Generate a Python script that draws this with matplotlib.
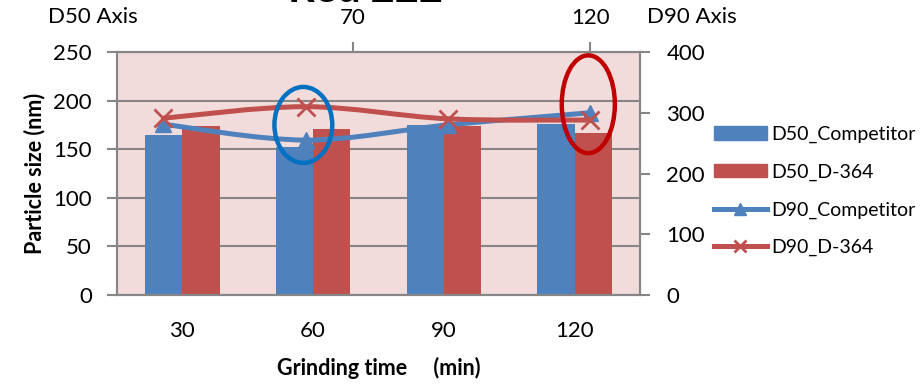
import numpy as np
import matplotlib.pyplot as plt
from matplotlib.path import Path
from matplotlib.patches import PathPatch, Ellipse
from matplotlib.lines import Line2D
from matplotlib.patches import Patch

plt.rcParams['font.family'] = ['Lato', 'DejaVu Sans']

# Grinding times (min)
times = [30, 60, 90, 120]
time_labels = ['30', '60', '90', '120']

# D50 particle size (nm), left axis
d50_competitor = [165, 152, 175, 176]
d50_d364 = [174, 171, 174, 167]

# D90 particle size (nm), right axis
d90_competitor = [281, 255, 280, 300]
d90_d364 = [291, 310, 290, 288]

BLUE = '#4F81BD'
RED = '#C0504D'
GRID = '#868686'
BG = '#F2DCDB'
FS = 16


def smooth_path(xs, ys):
    # cubic bezier through the points (Catmull-Rom style tangents)
    pts = np.column_stack([xs, ys]).astype(float)
    n = len(pts)
    verts = [pts[0]]
    codes = [Path.MOVETO]
    for i in range(n - 1):
        p_prev = pts[i - 1] if i > 0 else pts[i]
        p_next2 = pts[i + 2] if i + 2 < n else pts[i + 1]
        c1 = pts[i] + (pts[i + 1] - p_prev) / 6.0
        c2 = pts[i + 1] - (p_next2 - pts[i]) / 6.0
        verts += [c1, c2, pts[i + 1]]
        codes += [Path.CURVE4] * 3
    return Path(verts, codes)


fig = plt.figure(figsize=(9.22, 3.84), dpi=100)
ax = fig.add_axes([117 / 922, 89 / 384, 523 / 922, 243 / 384])
ax.set_facecolor(BG)

# D50 bars on category axis
idx = np.arange(len(times))
w = 0.285
ax.bar(idx - w / 2, d50_competitor, w, color=BLUE, zorder=2)
ax.bar(idx + w / 2, d50_d364, w, color=RED, zorder=2)
ax.set_xlim(-0.5, len(times) - 0.5)
ax.set_ylim(0, 250)
ax.set_yticks(range(0, 251, 50))
ax.yaxis.grid(True, color=GRID, lw=1.5, zorder=1)
ax.set_axisbelow(True)
ax.set_xticks(idx)
ax.set_xticklabels(time_labels)
ax.tick_params(axis='x', length=0, pad=19, labelsize=FS)
ax.tick_params(axis='y', direction='out', length=7, width=1.5, color=GRID,
               pad=11, labelsize=FS)
for s in ax.spines.values():
    s.set_color(GRID)
    s.set_linewidth(1.5)
ax.set_ylabel('Particle size (nm)', fontsize=15.5, fontweight='bold',
              labelpad=6)
ax.set_xlabel('Grinding time     (min)', fontsize=15.5, fontweight='bold',
              labelpad=11)

# D90 lines on secondary axes (top x in minutes, right y)
ax2 = fig.add_axes(ax.get_position(), facecolor='none')
ax2.set_xlim(20.2, 130.5)
ax2.set_ylim(0, 400)
ax2.xaxis.tick_top()
ax2.yaxis.tick_right()
ax2.set_xticks([70, 120])
ax2.set_yticks(range(0, 401, 100))
ax2.tick_params(axis='x', direction='out', length=7, width=1.5, color=GRID,
                pad=10, labelsize=FS)
ax2.tick_params(axis='y', direction='out', length=7, width=1.5, color=GRID,
                pad=12, labelsize=FS)
for s in ax2.spines.values():
    s.set_color(GRID)
    s.set_linewidth(1.5)

ax2.add_patch(PathPatch(smooth_path(times, d90_competitor), fc='none',
                        ec=BLUE, lw=3.6, capstyle='round', zorder=3))
ax2.plot(times, d90_competitor, ls='none', marker='^', ms=12, color=BLUE,
         zorder=4)
ax2.add_patch(PathPatch(smooth_path(times, d90_d364), fc='none',
                        ec=RED, lw=3.6, capstyle='round', zorder=5))
ax2.plot(times, d90_d364, ls='none', marker='x', ms=13, mew=2, color=RED,
         zorder=6)

# highlight rings
ax2.add_patch(Ellipse((59.5, 280), 12.2, 125, fill=False, ec='#0070C0',
                      lw=3.2, zorder=7))
ax2.add_patch(Ellipse((119.6, 314), 11.2, 161, fill=False, ec='#C00000',
                      lw=3.2, zorder=7))

fig.text(48 / 922, 1 - 17 / 384, 'D50 Axis', fontsize=FS, va='center')
fig.text(647 / 922, 1 - 17 / 384, 'D90 Axis', fontsize=FS, va='center')
fig.text(365 / 922, 1 - 2 / 384, 'Red 222', fontsize=30, fontweight='bold',
         ha='center', va='baseline')

handles = [
    Patch(color=BLUE),
    Patch(color=RED),
    Line2D([], [], color=BLUE, lw=3.6, marker='^', ms=8),
    Line2D([], [], color=RED, lw=3.6, marker='x', ms=9, mew=2),
]
labels = ['D50_Competitor', 'D50_D-364', 'D90_Competitor', 'D90_D-364']
fig.legend(handles, labels, loc='center left',
           bbox_to_anchor=(714 / 922, 1 - 191 / 384), frameon=False,
           fontsize=14, handlelength=2.7, handletextpad=0.26,
           labelspacing=1.06, borderaxespad=0, borderpad=0)

fig.savefig('out.png', dpi=100)
